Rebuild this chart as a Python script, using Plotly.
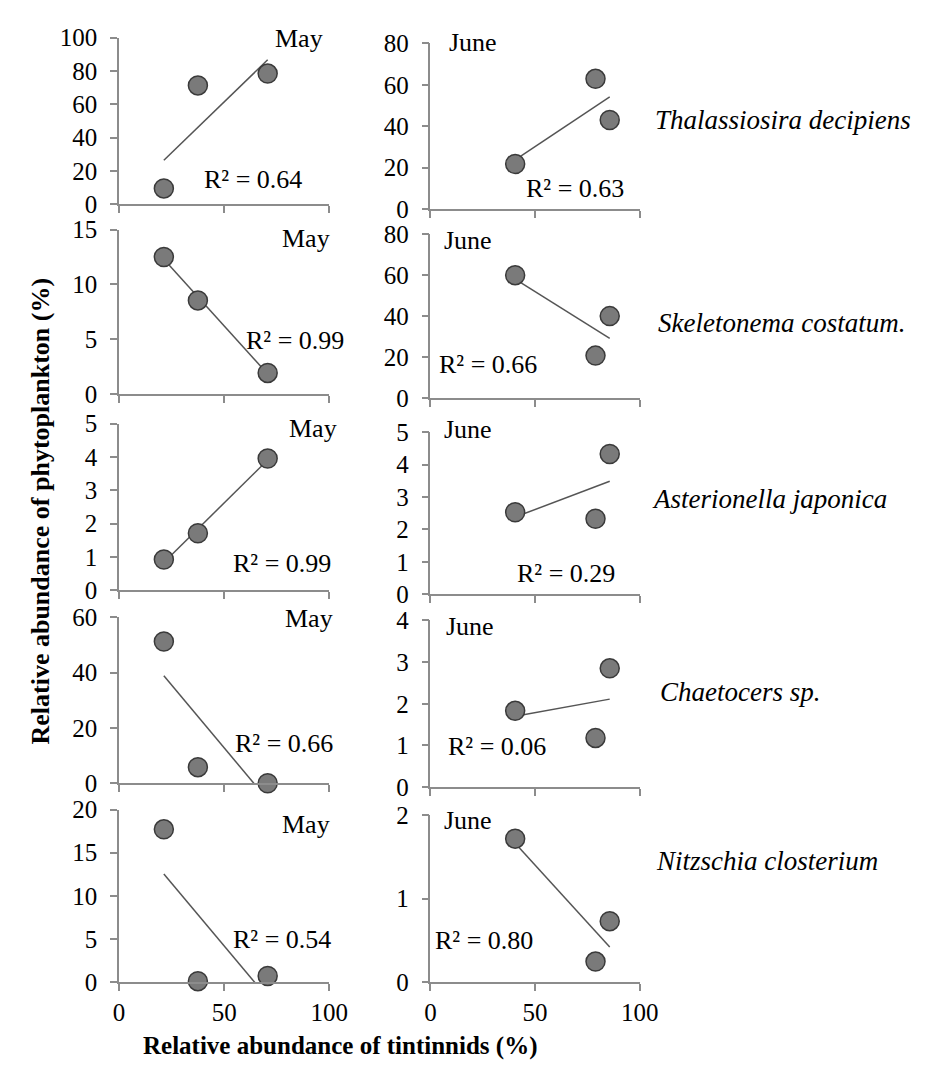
import numpy as np
import plotly.graph_objects as go

W, H = 926, 1066

# ---------------- data ----------------
species = ["Thalassiosira decipiens", "Skeletonema costatum.", "Asterionella japonica",
           "Chaetocers sp.", "Nitzschia closterium"]

x_may = [21.3, 37.5, 70.7]
x_june = [40.5, 78.9, 85.7]

thal_may = [9.5, 71.3, 78.4]
thal_june = [21.8, 62.9, 43.0]
skel_may = [12.5, 8.55, 1.95]
skel_june = [60.1, 20.8, 40.1]
aster_may = [0.92, 1.71, 3.95]
aster_june = [2.53, 2.33, 4.33]
chaet_may = [51.3, 5.8, 0.0]
chaet_june = [1.83, 1.18, 2.85]
nitz_may = [17.7, 0.1, 0.7]
nitz_june = [1.72, 0.245, 0.73]

may_series = [thal_may, skel_may, aster_may, chaet_may, nitz_may]
june_series = [thal_june, skel_june, aster_june, chaet_june, nitz_june]

r2_may = ["0.64", "0.99", "0.99", "0.66", "0.54"]
r2_june = ["0.63", "0.66", "0.29", "0.06", "0.80"]

ymax_may = [100, 15, 5, 60, 20]
dtick_may = [20, 5, 1, 20, 5]
ymax_june = [80, 80, 5, 4, 2]
dtick_june = [20, 20, 1, 1, 1]

x_ticks = [0, 50, 100]
x_title = "Relative abundance of tintinnids (%)"
y_title = "Relative abundance of phytoplankton (%)"

# ---------------- layout (pixels) ----------------
left_x = (108, 324)
right_x = (428, 643)
left_rows = [(17, 188), (214, 383), (413, 584), (612, 782), (809, 986)]
right_rows = [(23, 193), (219, 387), (422, 588), (615, 786), (815, 986)]

may_pos = [(293, 18), (300, 223), (307, 418), (303, 613), (300, 824)]
june_pos = [(472, 22), (467, 225), (467, 419), (469, 621), (467, 820)]
r2_may_pos = [(246, 163), (289, 328), (275, 557), (277, 741), (275, 942)]
r2_june_pos = [(577, 172), (487, 352), (567, 567), (496, 744), (483, 943)]
species_pos = [(790, 102), (789, 310), (776, 490), (746, 688), (774, 862)]

FONT = "Liberation Serif, Times New Roman, serif"
AXC = "#8c8c8c"
TICK_SIZE = 25
LABEL_SIZE = 26


def px(x):
    return x / W


def py(y):
    return 1 - y / H


fig = go.Figure()
layout = dict(
    width=W, height=H,
    margin=dict(l=0, r=0, t=0, b=0),
    paper_bgcolor="white", plot_bgcolor="white",
    showlegend=False,
    font=dict(family=FONT, size=TICK_SIZE, color="black"),
)
annotations = []

idx = 0
for row in range(5):
    for col in range(2):
        idx += 1
        xs = x_may if col == 0 else x_june
        ys = may_series[row] if col == 0 else june_series[row]
        ymax = ymax_may[row] if col == 0 else ymax_june[row]
        dt = dtick_may[row] if col == 0 else dtick_june[row]
        xd = left_x if col == 0 else right_x
        yd = left_rows[row] if col == 0 else right_rows[row]
        xa = "x" if idx == 1 else f"x{idx}"
        ya = "y" if idx == 1 else f"y{idx}"
        xk = "xaxis" if idx == 1 else f"xaxis{idx}"
        yk = "yaxis" if idx == 1 else f"yaxis{idx}"

        # trendline (least squares)
        slope, icpt = np.polyfit(xs, ys, 1)
        tx = np.array([min(xs), max(xs)])
        fig.add_trace(go.Scatter(x=tx, y=slope * tx + icpt, mode="lines",
                                 line=dict(color="#555555", width=1.5),
                                 xaxis=xa, yaxis=ya, hoverinfo="skip"))
        fig.add_trace(go.Scatter(x=xs, y=ys, mode="markers", cliponaxis=False,
                                 marker=dict(size=19, color="#7a7a7a",
                                             line=dict(color="#3a3a3a", width=1.5)),
                                 xaxis=xa, yaxis=ya))

        layout[xk] = dict(
            domain=[px(xd[0]), px(xd[1])], anchor=ya, range=[0, 100],
            tickvals=x_ticks, showticklabels=(row == 4),
            showline=True, linecolor=AXC, linewidth=1.5,
            ticks="outside", ticklen=7, tickcolor=AXC, tickwidth=1.5,
            showgrid=False, zeroline=False,
            tickfont=dict(family=FONT, size=TICK_SIZE, color="black"),
        )
        layout[yk] = dict(
            domain=[py(yd[1]), py(yd[0])], anchor=xa, range=[0, ymax],
            dtick=dt, tick0=0,
            showline=True, linecolor=AXC, linewidth=1.5,
            ticks="outside", ticklen=7, tickcolor=AXC, tickwidth=1.5,
            showgrid=False, zeroline=False, ticklabelstandoff=8,
            tickfont=dict(family=FONT, size=TICK_SIZE, color="black"),
        )

    # text labels for the row
    for (x, y), t in [(may_pos[row], "May"), (june_pos[row], "June"),
                      (r2_may_pos[row], "R² = " + r2_may[row]),
                      (r2_june_pos[row], "R² = " + r2_june[row])]:
        annotations.append(dict(x=px(x), y=py(y), xref="paper", yref="paper",
                                text=t, showarrow=False, xanchor="center", yanchor="middle",
                                font=dict(family=FONT, size=LABEL_SIZE, color="black")))
    annotations.append(dict(x=px(species_pos[row][0]), y=py(species_pos[row][1]),
                            xref="paper", yref="paper", text="<i>" + species[row] + "</i>",
                            showarrow=False, xanchor="center", yanchor="middle",
                            font=dict(family=FONT, size=27, color="black")))

annotations.append(dict(x=px(335), y=py(1052), xref="paper", yref="paper",
                        text="<b>" + x_title + "</b>", showarrow=False,
                        xanchor="center", yanchor="middle",
                        font=dict(family=FONT, size=25, color="black")))
annotations.append(dict(x=px(27), y=py(503), xref="paper", yref="paper",
                        text="<b>" + y_title + "</b>", showarrow=False, textangle=-90,
                        xanchor="center", yanchor="middle",
                        font=dict(family=FONT, size=26, color="black")))

layout["annotations"] = annotations
fig.update_layout(**layout)
fig.write_html("out.html")
